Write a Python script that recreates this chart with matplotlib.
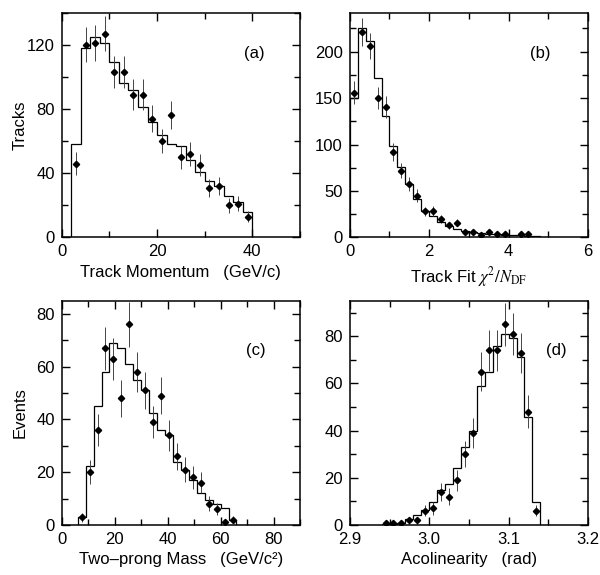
import matplotlib
matplotlib.use("Agg")
import matplotlib.pyplot as plt
from matplotlib.ticker import MultipleLocator

plt.rcParams["font.family"] = ["Liberation Sans", "DejaVu Sans"]
plt.rcParams["mathtext.fontset"] = "stix"
plt.rcParams["font.size"] = 12

# (a) track momentum
a_edges = [2, 4, 6, 8, 10, 12, 14, 16, 18, 20, 22, 24, 26, 28, 30, 32, 34, 36, 38, 40]
a_hist = [58, 118, 125, 121, 109, 96, 92, 81, 72, 64, 58, 57, 48, 41, 35, 32, 26, 22, 16]
a_x = [3, 5, 7, 9, 11, 13, 15, 17, 19, 21, 23, 25, 27, 29, 31, 33, 35, 37, 39]
a_y = [46, 120, 121, 127, 103, 103, 89, 89, 74, 60, 76, 50, 52, 45, 31, 32, 20, 21, 13]
a_err = [7, 11, 11, 11, 10, 10, 9.4, 9.4, 8.6, 7.7, 8.7, 7.1, 7.2, 6.7, 5.6, 5.7, 4.5, 4.6, 3.6]

# (b) track fit chi2 / ndf
b_edges = [0, 0.2, 0.4, 0.6, 0.8, 1.0, 1.2, 1.4, 1.6, 1.8, 2.0, 2.2, 2.4, 2.6,
           2.8, 3.0, 3.2, 3.4, 3.6, 3.8, 4.0, 4.2, 4.4, 4.6, 4.8]
b_hist = [150, 225, 212, 172, 131, 99, 76, 58, 41, 29, 23, 17, 12, 9, 7, 5.4,
          4.3, 3.6, 3.3, 2.9, 2.5, 2.2, 1.8, 1.4]
b_x = [0.1, 0.3, 0.5, 0.7, 0.9, 1.1, 1.3, 1.5, 1.7, 1.9, 2.1, 2.3, 2.5, 2.7,
       2.9, 3.1, 3.3, 3.5, 3.7, 3.9, 4.3, 4.5]
b_y = [156, 221, 206, 150, 140, 92, 72, 58, 45, 28, 29, 20, 13, 16, 6, 6, 3, 6, 4, 4, 4, 4]
b_err = [12.5, 14.9, 14.4, 12.2, 11.8, 9.6, 8.5, 7.6, 6.7, 5.3, 5.4, 4.5, 3.6, 4,
         2.4, 2.4, 1.7, 2.4, 2, 2, 2, 2]

# (c) two-prong mass
c_edges = [6, 9, 12, 15, 18, 21, 24, 27, 30, 33, 36, 39, 42, 45, 48, 51, 54, 57, 60, 63, 66]
c_hist = [3, 22.5, 45, 58, 69, 67, 61, 55, 51, 42.5, 36, 34, 24, 21, 17, 12, 9.4, 8, 6.4, 2]
c_x = [7.5, 10.5, 13.5, 16.5, 19.5, 22.5, 25.5, 28.5, 31.5, 34.5, 37.5, 40.5,
       43.5, 46.5, 49.5, 52.5, 55.5, 58.5, 61.5, 64.5]
c_y = [3, 20, 36, 67, 63, 48, 76, 58, 51, 39, 49, 34, 26, 21, 18, 16, 8, 6, 1, 2]
c_err = [1.7, 4.5, 6, 8.2, 7.9, 6.9, 8.7, 7.6, 7.1, 6.2, 7, 5.8, 5.1, 4.6, 4.2, 4, 2.8, 2.4, 1, 1.4]

# (d) acolinearity
d_edges = [2.94, 2.95, 2.96, 2.97, 2.98, 2.99, 3.00, 3.01, 3.02, 3.03, 3.04,
           3.05, 3.06, 3.07, 3.08, 3.09, 3.10, 3.11, 3.12, 3.13, 3.14]
d_hist = [0.3, 0.5, 1, 2.4, 4.2, 6.3, 9.8, 14.7, 17.5, 24, 33, 40, 59, 65, 76,
          81, 79, 71, 45.6, 9.8]
d_x = [2.945, 2.955, 2.965, 2.975, 2.985, 2.995, 3.005, 3.015, 3.025, 3.035,
       3.045, 3.055, 3.065, 3.075, 3.085, 3.095, 3.105, 3.115, 3.125, 3.135]
d_y = [1, 1, 1, 2, 2, 6, 7, 14, 12, 19, 30, 39, 65, 74, 74, 85, 81, 73, 48, 6]
d_err = [1, 1, 1, 1.4, 1.4, 2.4, 2.6, 3.7, 3.5, 4.4, 5.5, 6.2, 8.1, 8.6, 8.6, 9.2, 9, 8.5, 6.9, 2.4]

fig = plt.figure(figsize=(6, 5.75), dpi=100)

panels = [
    # rect, edges, hist, x, y, err, xlim, ylim, xmaj, xmin, ymaj, ymin, tag, tagpos, xlabel, ylabel, xw
    ([0.103, 0.587, 0.397, 0.391], a_edges, a_hist, a_x, a_y, a_err, (0, 50), (0, 140),
     20, 10, 40, 20, "(a)", (0.81, 0.82), "Track Momentum   (GeV/c)", "Tracks", 0.5),
    ([0.583, 0.587, 0.397, 0.391], b_edges, b_hist, b_x, b_y, b_err, (0, 6), (0, 242),
     2, 1, 50, 25, "(b)", (0.80, 0.82), r"Track Fit $\chi^2/N_{\rm DF}$", None, 0.05),
    ([0.103, 0.087, 0.397, 0.390], c_edges, c_hist, c_x, c_y, c_err, (0, 90), (0, 85),
     20, 10, 20, 10, "(c)", (0.815, 0.78), "Two\u2013prong Mass   (GeV/c\u00b2)", "Events", 0.7),
    ([0.583, 0.087, 0.397, 0.390], d_edges, d_hist, d_x, d_y, d_err, (2.9, 3.2), (0, 95),
     0.1, 0.05, 20, 10, "(d)", (0.865, 0.78), "Acolinearity   (rad)", None, 0.0025),
]

for (rect, edges, hist, x, y, err, xlim, ylim, xmaj, xmin, ymaj, ymin,
     tag, tagpos, xlabel, ylabel, xw) in panels:
    ax = fig.add_axes(rect)
    ax.stairs(hist, edges, color="black", linewidth=0.9)
    ax.errorbar(x, y, yerr=err, xerr=xw, fmt="D", color="black", markersize=3.2,
                elinewidth=0.7, capsize=0, ecolor="#444444")
    ax.set_xlim(*xlim)
    ax.set_ylim(*ylim)
    ax.xaxis.set_major_locator(MultipleLocator(xmaj))
    ax.xaxis.set_minor_locator(MultipleLocator(xmin))
    ax.yaxis.set_major_locator(MultipleLocator(ymaj))
    ax.yaxis.set_minor_locator(MultipleLocator(ymin))
    ax.tick_params(which="both", direction="in", top=True, right=True, width=1)
    ax.tick_params(which="major", length=6, pad=5)
    ax.tick_params(which="minor", length=4)
    for s in ax.spines.values():
        s.set_linewidth(1.1)
    ax.text(tagpos[0], tagpos[1], tag, transform=ax.transAxes, ha="center", va="center")
    ax.set_xlabel(xlabel, labelpad=4)
    if ylabel:
        ax.set_ylabel(ylabel)
        ax.yaxis.set_label_coords(-0.145, 0.5)

fig.savefig("out.png", dpi=100)
